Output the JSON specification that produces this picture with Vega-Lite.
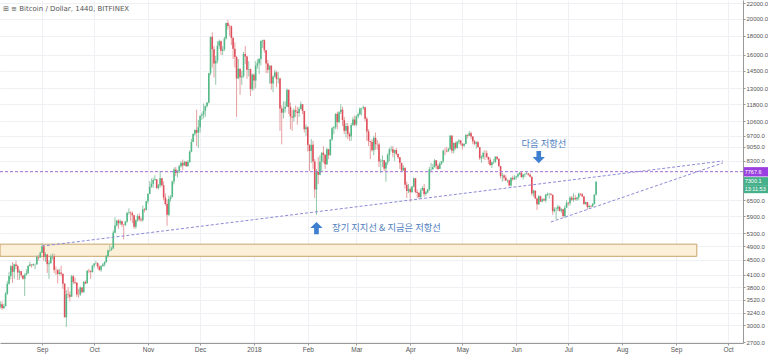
{
"$schema": "https://vega.github.io/schema/vega-lite/v6.json",
"width": 743, "height": 343, "autosize": "none", "padding": {"left": 0, "top": 0, "right": 25, "bottom": 11},
"background": "white",
"title": {"text": "⊞ ≡ Bitcoin / Dollar, 1440, BITFINEX", "anchor": "start", "frame": "group", "orient": "top", "offset": -12, "dx": 3, "fontSize": 7, "fontWeight": "normal", "color": "#555", "font": "DejaVu Sans"},
"config": {"view": {"stroke": null}, "axis": {"labelFont": "Liberation Sans"}},
"datasets": {
"btc": [
{"d":"2017-08-08","o":3370,"h":3480,"l":3330,"c":3420},
{"d":"2017-08-09","o":3420,"h":3480,"l":3300,"c":3342},
{"d":"2017-08-10","o":3342,"h":3430,"l":3320,"c":3381},
{"d":"2017-08-11","o":3381,"h":3690,"l":3370,"c":3650},
{"d":"2017-08-12","o":3650,"h":3950,"l":3620,"c":3884},
{"d":"2017-08-13","o":3884,"h":4180,"l":3860,"c":4073},
{"d":"2017-08-14","o":4073,"h":4360,"l":3990,"c":4326},
{"d":"2017-08-15","o":4326,"h":4440,"l":3900,"c":4181},
{"d":"2017-08-16","o":4181,"h":4400,"l":4000,"c":4376},
{"d":"2017-08-17","o":4376,"h":4480,"l":4250,"c":4331},
{"d":"2017-08-18","o":4331,"h":4370,"l":3970,"c":4160},
{"d":"2017-08-19","o":4160,"h":4240,"l":3980,"c":4194},
{"d":"2017-08-20","o":4194,"h":4200,"l":4040,"c":4088},
{"d":"2017-08-21","o":4088,"h":4100,"l":3980,"c":4002},
{"d":"2017-08-22","o":4002,"h":4140,"l":3600,"c":4100},
{"d":"2017-08-23","o":4100,"h":4250,"l":4090,"c":4151},
{"d":"2017-08-24","o":4151,"h":4360,"l":4120,"c":4335},
{"d":"2017-08-25","o":4335,"h":4450,"l":4320,"c":4371},
{"d":"2017-08-26","o":4371,"h":4380,"l":4290,"c":4353},
{"d":"2017-08-27","o":4353,"h":4400,"l":4330,"c":4382},
{"d":"2017-08-28","o":4382,"h":4400,"l":4250,"c":4382},
{"d":"2017-08-29","o":4382,"h":4625,"l":4360,"c":4579},
{"d":"2017-08-30","o":4579,"h":4640,"l":4480,"c":4565},
{"d":"2017-08-31","o":4565,"h":4740,"l":4560,"c":4703},
{"d":"2017-09-01","o":4703,"h":4980,"l":4690,"c":4892},
{"d":"2017-09-02","o":4892,"h":4940,"l":4470,"c":4579},
{"d":"2017-09-03","o":4579,"h":4720,"l":4440,"c":4655},
{"d":"2017-09-04","o":4655,"h":4660,"l":4150,"c":4382},
{"d":"2017-09-05","o":4382,"h":4480,"l":4000,"c":4406},
{"d":"2017-09-06","o":4406,"h":4650,"l":4400,"c":4597},
{"d":"2017-09-07","o":4597,"h":4680,"l":4510,"c":4599},
{"d":"2017-09-08","o":4599,"h":4670,"l":4150,"c":4229},
{"d":"2017-09-09","o":4229,"h":4320,"l":4100,"c":4226},
{"d":"2017-09-10","o":4226,"h":4250,"l":3890,"c":4122},
{"d":"2017-09-11","o":4122,"h":4260,"l":4100,"c":4161},
{"d":"2017-09-12","o":4161,"h":4340,"l":4060,"c":4130},
{"d":"2017-09-13","o":4130,"h":4130,"l":3760,"c":3882},
{"d":"2017-09-14","o":3882,"h":3900,"l":3150,"c":3154},
{"d":"2017-09-15","o":3154,"h":3730,"l":2970,"c":3637},
{"d":"2017-09-16","o":3637,"h":3800,"l":3550,"c":3625},
{"d":"2017-09-17","o":3625,"h":3700,"l":3480,"c":3582},
{"d":"2017-09-18","o":3582,"h":4100,"l":3580,"c":4065},
{"d":"2017-09-19","o":4065,"h":4100,"l":3870,"c":3925},
{"d":"2017-09-20","o":3925,"h":4030,"l":3870,"c":3906},
{"d":"2017-09-21","o":3906,"h":3920,"l":3580,"c":3631},
{"d":"2017-09-22","o":3631,"h":3760,"l":3560,"c":3630},
{"d":"2017-09-23","o":3630,"h":3820,"l":3600,"c":3792},
{"d":"2017-09-24","o":3792,"h":3800,"l":3660,"c":3682},
{"d":"2017-09-25","o":3682,"h":3950,"l":3680,"c":3926},
{"d":"2017-09-26","o":3926,"h":3960,"l":3870,"c":3892},
{"d":"2017-09-27","o":3892,"h":4220,"l":3890,"c":4209},
{"d":"2017-09-28","o":4209,"h":4260,"l":4140,"c":4195},
{"d":"2017-09-29","o":4195,"h":4220,"l":4000,"c":4174},
{"d":"2017-09-30","o":4174,"h":4360,"l":4160,"c":4338},
{"d":"2017-10-01","o":4338,"h":4410,"l":4290,"c":4403},
{"d":"2017-10-02","o":4403,"h":4470,"l":4370,"c":4409},
{"d":"2017-10-03","o":4409,"h":4430,"l":4260,"c":4318},
{"d":"2017-10-04","o":4318,"h":4350,"l":4200,"c":4230},
{"d":"2017-10-05","o":4230,"h":4360,"l":4180,"c":4329},
{"d":"2017-10-06","o":4329,"h":4410,"l":4320,"c":4371},
{"d":"2017-10-07","o":4371,"h":4460,"l":4320,"c":4439},
{"d":"2017-10-08","o":4439,"h":4640,"l":4420,"c":4611},
{"d":"2017-10-09","o":4611,"h":4800,"l":4560,"c":4772},
{"d":"2017-10-10","o":4772,"h":4930,"l":4720,"c":4781},
{"d":"2017-10-11","o":4781,"h":4880,"l":4760,"c":4827},
{"d":"2017-10-12","o":4827,"h":5400,"l":4820,"c":5325},
{"d":"2017-10-13","o":5325,"h":5860,"l":5320,"c":5563},
{"d":"2017-10-14","o":5563,"h":5760,"l":5530,"c":5739},
{"d":"2017-10-15","o":5739,"h":5790,"l":5450,"c":5647},
{"d":"2017-10-16","o":5647,"h":5780,"l":5580,"c":5711},
{"d":"2017-10-17","o":5711,"h":5740,"l":5520,"c":5603},
{"d":"2017-10-18","o":5603,"h":5610,"l":5110,"c":5590},
{"d":"2017-10-19","o":5590,"h":5730,"l":5550,"c":5708},
{"d":"2017-10-20","o":5708,"h":6060,"l":5660,"c":6011},
{"d":"2017-10-21","o":6011,"h":6190,"l":5950,"c":6031},
{"d":"2017-10-22","o":6031,"h":6080,"l":5730,"c":6008},
{"d":"2017-10-23","o":6008,"h":6070,"l":5650,"c":5930},
{"d":"2017-10-24","o":5930,"h":5940,"l":5450,"c":5526},
{"d":"2017-10-25","o":5526,"h":5780,"l":5460,"c":5750},
{"d":"2017-10-26","o":5750,"h":5970,"l":5700,"c":5904},
{"d":"2017-10-27","o":5904,"h":6000,"l":5720,"c":5780},
{"d":"2017-10-28","o":5780,"h":5860,"l":5700,"c":5753},
{"d":"2017-10-29","o":5753,"h":6300,"l":5700,"c":6153},
{"d":"2017-10-30","o":6153,"h":6200,"l":6040,"c":6130},
{"d":"2017-10-31","o":6130,"h":6480,"l":6100,"c":6468},
{"d":"2017-11-01","o":6468,"h":6800,"l":6380,"c":6767},
{"d":"2017-11-02","o":6767,"h":7330,"l":6760,"c":7078},
{"d":"2017-11-03","o":7078,"h":7450,"l":7030,"c":7207},
{"d":"2017-11-04","o":7207,"h":7490,"l":7030,"c":7379},
{"d":"2017-11-05","o":7379,"h":7600,"l":7340,"c":7407},
{"d":"2017-11-06","o":7407,"h":7420,"l":6980,"c":7023},
{"d":"2017-11-07","o":7023,"h":7200,"l":6960,"c":7145},
{"d":"2017-11-08","o":7145,"h":7800,"l":7040,"c":7459},
{"d":"2017-11-09","o":7459,"h":7470,"l":7080,"c":7143},
{"d":"2017-11-10","o":7143,"h":7310,"l":6500,"c":6618},
{"d":"2017-11-11","o":6618,"h":6790,"l":6300,"c":6357},
{"d":"2017-11-12","o":6357,"h":6540,"l":5560,"c":5950},
{"d":"2017-11-13","o":5950,"h":6700,"l":5900,"c":6559},
{"d":"2017-11-14","o":6559,"h":6720,"l":6450,"c":6636},
{"d":"2017-11-15","o":6636,"h":7340,"l":6630,"c":7315},
{"d":"2017-11-16","o":7315,"h":7970,"l":7180,"c":7871},
{"d":"2017-11-17","o":7871,"h":8000,"l":7560,"c":7708},
{"d":"2017-11-18","o":7708,"h":7850,"l":7500,"c":7790},
{"d":"2017-11-19","o":7790,"h":8100,"l":7700,"c":8036},
{"d":"2017-11-20","o":8036,"h":8300,"l":7970,"c":8200},
{"d":"2017-11-21","o":8200,"h":8370,"l":7850,"c":8071},
{"d":"2017-11-22","o":8071,"h":8300,"l":8070,"c":8253},
{"d":"2017-11-23","o":8253,"h":8300,"l":8000,"c":8038},
{"d":"2017-11-24","o":8038,"h":8350,"l":8020,"c":8253},
{"d":"2017-11-25","o":8253,"h":8870,"l":8200,"c":8790},
{"d":"2017-11-26","o":8790,"h":9520,"l":8760,"c":9330},
{"d":"2017-11-27","o":9330,"h":9830,"l":9330,"c":9818},
{"d":"2017-11-28","o":9818,"h":10100,"l":9700,"c":10058},
{"d":"2017-11-29","o":10058,"h":11400,"l":9100,"c":9888},
{"d":"2017-11-30","o":9888,"h":10700,"l":9000,"c":10233},
{"d":"2017-12-01","o":10233,"h":11000,"l":9900,"c":10975},
{"d":"2017-12-02","o":10975,"h":11200,"l":10700,"c":11074},
{"d":"2017-12-03","o":11074,"h":11850,"l":10800,"c":11323},
{"d":"2017-12-04","o":11323,"h":11700,"l":10900,"c":11657},
{"d":"2017-12-05","o":11657,"h":11950,"l":11550,"c":11916},
{"d":"2017-12-06","o":11916,"h":14300,"l":11850,"c":14291},
{"d":"2017-12-07","o":14291,"h":17900,"l":14100,"c":17899},
{"d":"2017-12-08","o":17899,"h":18400,"l":14800,"c":16569},
{"d":"2017-12-09","o":16569,"h":16900,"l":13900,"c":15178},
{"d":"2017-12-10","o":15178,"h":15900,"l":13300,"c":15455},
{"d":"2017-12-11","o":15455,"h":17400,"l":15200,"c":16936},
{"d":"2017-12-12","o":16936,"h":17600,"l":16600,"c":17415},
{"d":"2017-12-13","o":17415,"h":17500,"l":16000,"c":16408},
{"d":"2017-12-14","o":16408,"h":16900,"l":16000,"c":16565},
{"d":"2017-12-15","o":16565,"h":17900,"l":16400,"c":17706},
{"d":"2017-12-16","o":17706,"h":19550,"l":17600,"c":19497},
{"d":"2017-12-17","o":19497,"h":19850,"l":18700,"c":19140},
{"d":"2017-12-18","o":19140,"h":19300,"l":18000,"c":19114},
{"d":"2017-12-19","o":19114,"h":19200,"l":17000,"c":17776},
{"d":"2017-12-20","o":17776,"h":17900,"l":15600,"c":16624},
{"d":"2017-12-21","o":16624,"h":17300,"l":14800,"c":15802},
{"d":"2017-12-22","o":15802,"h":15900,"l":10900,"c":13831},
{"d":"2017-12-23","o":13831,"h":15600,"l":13800,"c":14699},
{"d":"2017-12-24","o":14699,"h":14700,"l":12500,"c":13926},
{"d":"2017-12-25","o":13926,"h":14500,"l":13300,"c":14027},
{"d":"2017-12-26","o":14027,"h":16300,"l":13900,"c":16099},
{"d":"2017-12-27","o":16099,"h":16900,"l":15100,"c":15838},
{"d":"2017-12-28","o":15838,"h":15900,"l":13800,"c":14606},
{"d":"2017-12-29","o":14606,"h":15400,"l":14000,"c":14656},
{"d":"2017-12-30","o":14656,"h":14700,"l":12400,"c":12952},
{"d":"2017-12-31","o":12952,"h":14300,"l":12800,"c":14156},
{"d":"2018-01-01","o":14156,"h":14250,"l":12900,"c":13657},
{"d":"2018-01-02","o":13657,"h":15400,"l":13000,"c":14982},
{"d":"2018-01-03","o":14982,"h":15600,"l":14700,"c":15201},
{"d":"2018-01-04","o":15201,"h":15700,"l":14200,"c":15599},
{"d":"2018-01-05","o":15599,"h":17500,"l":15000,"c":17429},
{"d":"2018-01-06","o":17429,"h":17600,"l":16700,"c":17527},
{"d":"2018-01-07","o":17527,"h":17600,"l":16200,"c":16477},
{"d":"2018-01-08","o":16477,"h":16500,"l":14300,"c":15170},
{"d":"2018-01-09","o":15170,"h":15500,"l":14300,"c":14595},
{"d":"2018-01-10","o":14595,"h":15000,"l":13400,"c":14973},
{"d":"2018-01-11","o":14973,"h":15000,"l":12900,"c":13405},
{"d":"2018-01-12","o":13405,"h":14100,"l":12700,"c":13980},
{"d":"2018-01-13","o":13980,"h":14600,"l":13900,"c":14360},
{"d":"2018-01-14","o":14360,"h":14500,"l":13100,"c":13772},
{"d":"2018-01-15","o":13772,"h":14400,"l":13400,"c":13819},
{"d":"2018-01-16","o":13819,"h":13900,"l":10000,"c":11490},
{"d":"2018-01-17","o":11490,"h":11700,"l":9200,"c":11188},
{"d":"2018-01-18","o":11188,"h":12000,"l":10800,"c":11474},
{"d":"2018-01-19","o":11474,"h":12000,"l":11200,"c":11607},
{"d":"2018-01-20","o":11607,"h":13000,"l":11600,"c":12899},
{"d":"2018-01-21","o":12899,"h":12900,"l":11100,"c":11600},
{"d":"2018-01-22","o":11600,"h":11900,"l":10100,"c":10931},
{"d":"2018-01-23","o":10931,"h":11400,"l":10000,"c":10868},
{"d":"2018-01-24","o":10868,"h":11500,"l":10600,"c":11359},
{"d":"2018-01-25","o":11359,"h":11700,"l":10900,"c":11259},
{"d":"2018-01-26","o":11259,"h":11600,"l":10400,"c":11171},
{"d":"2018-01-27","o":11171,"h":11600,"l":10900,"c":11441},
{"d":"2018-01-28","o":11441,"h":12000,"l":11400,"c":11787},
{"d":"2018-01-29","o":11787,"h":11800,"l":11100,"c":11306},
{"d":"2018-01-30","o":11306,"h":11300,"l":9900,"c":10106},
{"d":"2018-01-31","o":10106,"h":10400,"l":9700,"c":10221},
{"d":"2018-02-01","o":10221,"h":10300,"l":8800,"c":9171},
{"d":"2018-02-02","o":9171,"h":9200,"l":7800,"c":8830},
{"d":"2018-02-03","o":8830,"h":9500,"l":8200,"c":9175},
{"d":"2018-02-04","o":9175,"h":9400,"l":7900,"c":8277},
{"d":"2018-02-05","o":8277,"h":8400,"l":6600,"c":6955},
{"d":"2018-02-06","o":6955,"h":7900,"l":5950,"c":7754},
{"d":"2018-02-07","o":7754,"h":8500,"l":7200,"c":7621},
{"d":"2018-02-08","o":7621,"h":8600,"l":7600,"c":8266},
{"d":"2018-02-09","o":8266,"h":8750,"l":7800,"c":8736},
{"d":"2018-02-10","o":8736,"h":9100,"l":8200,"c":8621},
{"d":"2018-02-11","o":8621,"h":8650,"l":7900,"c":8129},
{"d":"2018-02-12","o":8129,"h":9000,"l":8100,"c":8926},
{"d":"2018-02-13","o":8926,"h":8930,"l":8400,"c":8598},
{"d":"2018-02-14","o":8598,"h":9500,"l":8600,"c":9494},
{"d":"2018-02-15","o":9494,"h":10250,"l":9400,"c":10166},
{"d":"2018-02-16","o":10166,"h":10300,"l":9800,"c":10233},
{"d":"2018-02-17","o":10233,"h":11150,"l":10100,"c":11112},
{"d":"2018-02-18","o":11112,"h":11250,"l":10100,"c":10551},
{"d":"2018-02-19","o":10551,"h":11300,"l":10500,"c":11225},
{"d":"2018-02-20","o":11225,"h":11800,"l":11100,"c":11403},
{"d":"2018-02-21","o":11403,"h":11600,"l":10300,"c":10690},
{"d":"2018-02-22","o":10690,"h":10900,"l":9800,"c":10005},
{"d":"2018-02-23","o":10005,"h":10500,"l":9600,"c":10301},
{"d":"2018-02-24","o":10301,"h":10500,"l":9500,"c":9813},
{"d":"2018-02-25","o":9813,"h":9900,"l":9400,"c":9664},
{"d":"2018-02-26","o":9664,"h":10500,"l":9400,"c":10366},
{"d":"2018-02-27","o":10366,"h":10900,"l":10300,"c":10725},
{"d":"2018-02-28","o":10725,"h":11000,"l":10300,"c":10397},
{"d":"2018-03-01","o":10397,"h":11000,"l":10300,"c":10951},
{"d":"2018-03-02","o":10951,"h":11200,"l":10800,"c":11086},
{"d":"2018-03-03","o":11086,"h":11550,"l":11000,"c":11489},
{"d":"2018-03-04","o":11489,"h":11550,"l":11000,"c":11512},
{"d":"2018-03-05","o":11512,"h":11700,"l":11400,"c":11573},
{"d":"2018-03-06","o":11573,"h":11600,"l":10600,"c":10779},
{"d":"2018-03-07","o":10779,"h":10900,"l":9400,"c":9965},
{"d":"2018-03-08","o":9965,"h":10100,"l":9100,"c":9395},
{"d":"2018-03-09","o":9395,"h":9400,"l":8400,"c":9337},
{"d":"2018-03-10","o":9337,"h":9500,"l":8800,"c":8866},
{"d":"2018-03-11","o":8866,"h":9700,"l":8600,"c":9578},
{"d":"2018-03-12","o":9578,"h":9900,"l":8900,"c":9205},
{"d":"2018-03-13","o":9205,"h":9450,"l":8900,"c":9194},
{"d":"2018-03-14","o":9194,"h":9300,"l":8000,"c":8269},
{"d":"2018-03-15","o":8269,"h":8400,"l":7700,"c":8300},
{"d":"2018-03-16","o":8300,"h":8600,"l":8000,"c":8338},
{"d":"2018-03-17","o":8338,"h":8350,"l":7800,"c":7916},
{"d":"2018-03-18","o":7916,"h":8250,"l":7300,"c":8223},
{"d":"2018-03-19","o":8223,"h":8700,"l":8100,"c":8630},
{"d":"2018-03-20","o":8630,"h":9000,"l":8300,"c":8913},
{"d":"2018-03-21","o":8913,"h":9100,"l":8800,"c":8930},
{"d":"2018-03-22","o":8930,"h":9100,"l":8500,"c":8729},
{"d":"2018-03-23","o":8729,"h":8900,"l":8300,"c":8880},
{"d":"2018-03-24","o":8880,"h":9000,"l":8600,"c":8669},
{"d":"2018-03-25","o":8669,"h":8700,"l":8400,"c":8495},
{"d":"2018-03-26","o":8495,"h":8500,"l":7900,"c":8209},
{"d":"2018-03-27","o":8209,"h":8200,"l":7800,"c":7833},
{"d":"2018-03-28","o":7833,"h":8100,"l":7800,"c":7954},
{"d":"2018-03-29","o":7954,"h":7960,"l":7000,"c":7165},
{"d":"2018-03-30","o":7165,"h":7300,"l":6600,"c":6891},
{"d":"2018-03-31","o":6891,"h":7200,"l":6800,"c":6973},
{"d":"2018-04-01","o":6973,"h":7050,"l":6450,"c":6845},
{"d":"2018-04-02","o":6845,"h":7100,"l":6800,"c":7083},
{"d":"2018-04-03","o":7083,"h":7500,"l":7050,"c":7456},
{"d":"2018-04-04","o":7456,"h":7460,"l":6800,"c":6853},
{"d":"2018-04-05","o":6853,"h":6950,"l":6600,"c":6811},
{"d":"2018-04-06","o":6811,"h":6850,"l":6550,"c":6636},
{"d":"2018-04-07","o":6636,"h":7000,"l":6600,"c":6911},
{"d":"2018-04-08","o":6911,"h":7100,"l":6900,"c":7023},
{"d":"2018-04-09","o":7023,"h":7200,"l":6650,"c":6770},
{"d":"2018-04-10","o":6770,"h":6900,"l":6700,"c":6834},
{"d":"2018-04-11","o":6834,"h":6980,"l":6800,"c":6968},
{"d":"2018-04-12","o":6968,"h":8000,"l":6900,"c":7889},
{"d":"2018-04-13","o":7889,"h":8200,"l":7800,"c":7895},
{"d":"2018-04-14","o":7895,"h":8150,"l":7850,"c":7986},
{"d":"2018-04-15","o":7986,"h":8400,"l":7980,"c":8329},
{"d":"2018-04-16","o":8329,"h":8350,"l":7900,"c":8058},
{"d":"2018-04-17","o":8058,"h":8150,"l":7850,"c":7902},
{"d":"2018-04-18","o":7902,"h":8250,"l":7900,"c":8163},
{"d":"2018-04-19","o":8163,"h":8300,"l":8100,"c":8294},
{"d":"2018-04-20","o":8294,"h":8900,"l":8200,"c":8846},
{"d":"2018-04-21","o":8846,"h":9000,"l":8600,"c":8845},
{"d":"2018-04-22","o":8845,"h":9050,"l":8750,"c":8807},
{"d":"2018-04-23","o":8807,"h":9000,"l":8800,"c":8930},
{"d":"2018-04-24","o":8930,"h":9750,"l":8900,"c":9697},
{"d":"2018-04-25","o":9697,"h":9750,"l":8700,"c":8845},
{"d":"2018-04-26","o":8845,"h":9300,"l":8700,"c":9281},
{"d":"2018-04-27","o":9281,"h":9350,"l":8900,"c":8987},
{"d":"2018-04-28","o":8987,"h":9400,"l":8950,"c":9348},
{"d":"2018-04-29","o":9348,"h":9500,"l":9200,"c":9419},
{"d":"2018-04-30","o":9419,"h":9450,"l":9150,"c":9240},
{"d":"2018-05-01","o":9240,"h":9250,"l":8900,"c":9119},
{"d":"2018-05-02","o":9119,"h":9250,"l":9050,"c":9235},
{"d":"2018-05-03","o":9235,"h":9800,"l":9200,"c":9744},
{"d":"2018-05-04","o":9744,"h":9800,"l":9550,"c":9700},
{"d":"2018-05-05","o":9700,"h":9990,"l":9700,"c":9858},
{"d":"2018-05-06","o":9858,"h":9950,"l":9500,"c":9654},
{"d":"2018-05-07","o":9654,"h":9680,"l":9200,"c":9374},
{"d":"2018-05-08","o":9374,"h":9450,"l":9150,"c":9235},
{"d":"2018-05-09","o":9235,"h":9370,"l":8950,"c":9325},
{"d":"2018-05-10","o":9325,"h":9400,"l":9000,"c":9043},
{"d":"2018-05-11","o":9043,"h":9050,"l":8350,"c":8441},
{"d":"2018-05-12","o":8441,"h":8600,"l":8200,"c":8504},
{"d":"2018-05-13","o":8504,"h":8800,"l":8400,"c":8723},
{"d":"2018-05-14","o":8723,"h":8880,"l":8350,"c":8717},
{"d":"2018-05-15","o":8717,"h":8850,"l":8450,"c":8510},
{"d":"2018-05-16","o":8510,"h":8520,"l":8150,"c":8368},
{"d":"2018-05-17","o":8368,"h":8480,"l":8050,"c":8095},
{"d":"2018-05-18","o":8095,"h":8270,"l":7950,"c":8234},
{"d":"2018-05-19","o":8234,"h":8400,"l":8150,"c":8248},
{"d":"2018-05-20","o":8248,"h":8550,"l":8200,"c":8514},
{"d":"2018-05-21","o":8514,"h":8550,"l":8350,"c":8419},
{"d":"2018-05-22","o":8419,"h":8430,"l":7980,"c":8041},
{"d":"2018-05-23","o":8041,"h":8050,"l":7450,"c":7558},
{"d":"2018-05-24","o":7558,"h":7720,"l":7300,"c":7588},
{"d":"2018-05-25","o":7588,"h":7650,"l":7350,"c":7481},
{"d":"2018-05-26","o":7481,"h":7600,"l":7330,"c":7356},
{"d":"2018-05-27","o":7356,"h":7400,"l":7250,"c":7368},
{"d":"2018-05-28","o":7368,"h":7400,"l":7090,"c":7136},
{"d":"2018-05-29","o":7136,"h":7520,"l":7080,"c":7472},
{"d":"2018-05-30","o":7472,"h":7580,"l":7350,"c":7407},
{"d":"2018-05-31","o":7407,"h":7600,"l":7380,"c":7495},
{"d":"2018-06-01","o":7495,"h":7560,"l":7400,"c":7541},
{"d":"2018-06-02","o":7541,"h":7700,"l":7490,"c":7643},
{"d":"2018-06-03","o":7643,"h":7760,"l":7600,"c":7720},
{"d":"2018-06-04","o":7720,"h":7760,"l":7480,"c":7514},
{"d":"2018-06-05","o":7514,"h":7650,"l":7400,"c":7633},
{"d":"2018-06-06","o":7633,"h":7700,"l":7500,"c":7654},
{"d":"2018-06-07","o":7654,"h":7760,"l":7630,"c":7678},
{"d":"2018-06-08","o":7678,"h":7700,"l":7570,"c":7625},
{"d":"2018-06-09","o":7625,"h":7690,"l":7500,"c":7531},
{"d":"2018-06-10","o":7531,"h":7540,"l":6700,"c":6786},
{"d":"2018-06-11","o":6786,"h":6950,"l":6650,"c":6906},
{"d":"2018-06-12","o":6906,"h":6920,"l":6550,"c":6582},
{"d":"2018-06-13","o":6582,"h":6620,"l":6130,"c":6349},
{"d":"2018-06-14","o":6349,"h":6720,"l":6320,"c":6675},
{"d":"2018-06-15","o":6675,"h":6690,"l":6440,"c":6456},
{"d":"2018-06-16","o":6456,"h":6580,"l":6420,"c":6550},
{"d":"2018-06-17","o":6550,"h":6600,"l":6480,"c":6499},
{"d":"2018-06-18","o":6499,"h":6780,"l":6420,"c":6734},
{"d":"2018-06-19","o":6734,"h":6830,"l":6680,"c":6769},
{"d":"2018-06-20","o":6769,"h":6800,"l":6570,"c":6776},
{"d":"2018-06-21","o":6776,"h":6790,"l":6710,"c":6729},
{"d":"2018-06-22","o":6729,"h":6740,"l":5950,"c":6083},
{"d":"2018-06-23","o":6083,"h":6230,"l":6040,"c":6162},
{"d":"2018-06-24","o":6162,"h":6240,"l":5780,"c":6173},
{"d":"2018-06-25","o":6173,"h":6330,"l":6080,"c":6249},
{"d":"2018-06-26","o":6249,"h":6290,"l":6070,"c":6093},
{"d":"2018-06-27","o":6093,"h":6200,"l":6020,"c":6157},
{"d":"2018-06-28","o":6157,"h":6170,"l":5860,"c":5903},
{"d":"2018-06-29","o":5903,"h":6300,"l":5830,"c":6218},
{"d":"2018-06-30","o":6218,"h":6500,"l":6200,"c":6404},
{"d":"2018-07-01","o":6404,"h":6440,"l":6290,"c":6385},
{"d":"2018-07-02","o":6385,"h":6680,"l":6300,"c":6614},
{"d":"2018-07-03","o":6614,"h":6680,"l":6480,"c":6530},
{"d":"2018-07-04","o":6530,"h":6800,"l":6450,"c":6597},
{"d":"2018-07-05","o":6597,"h":6720,"l":6500,"c":6547},
{"d":"2018-07-06","o":6547,"h":6640,"l":6480,"c":6617},
{"d":"2018-07-07","o":6617,"h":6820,"l":6520,"c":6773},
{"d":"2018-07-08","o":6773,"h":6800,"l":6700,"c":6742},
{"d":"2018-07-09","o":6742,"h":6810,"l":6640,"c":6664},
{"d":"2018-07-10","o":6664,"h":6680,"l":6330,"c":6358},
{"d":"2018-07-11","o":6358,"h":6450,"l":6330,"c":6434},
{"d":"2018-07-12","o":6434,"h":6440,"l":6150,"c":6239},
{"d":"2018-07-13","o":6239,"h":6330,"l":6180,"c":6277},
{"d":"2018-07-14","o":6277,"h":6320,"l":6230,"c":6259},
{"d":"2018-07-15","o":6259,"h":6400,"l":6250,"c":6359},
{"d":"2018-07-16","o":6359,"h":6750,"l":6340,"c":6742},
{"d":"2018-07-17","o":6742,"h":7330,"l":6700,"c":7300}
],
"zone": [{"a":"2017-08-07T20:00:00Z","b":"2018-09-13","lo":4600,"hi":4960}],
"trend": [
{"g":"long","d":"2017-09-01","p":4900},{"g":"long","d":"2018-09-28","p":8300},
{"g":"short","d":"2018-06-21","p":5690},{"g":"short","d":"2018-09-28","p":8200}
],
"hline": [{"p":7767.6}],
"arrowsUp": [{"d":"2018-02-06","p":5480}],
"arrowsDown": [{"d":"2018-06-14","p":8500}],
"noteLeft": [{"d":"2018-02-15","p":5480,"t":"장기 지지선 & 지금은 저항선"}],
"noteCenter": [{"d":"2018-06-17","p":9220,"t":"다음 저항선"}],
"tags": [
{"d1":"2018-10-10","d2":"2018-10-24","lo":7540,"hi":7990,"mid":7767.6,"t":"7767.6","k":"p"},
{"d1":"2018-10-10","d2":"2018-10-24","lo":7146,"hi":7510,"mid":7326,"t":"7300.1","k":"g"},
{"d1":"2018-10-10","d2":"2018-10-24","lo":6800,"hi":7146,"mid":6970,"t":"13:11:53","k":"g"}
]
},
"encoding": {
"x": {"field": "d", "type": "temporal",
  "scale": {"type": "utc", "nice": false, "padding": 0, "domain": [{"year":2017,"month":8,"date":7,"hours":19,"utc":true},{"year":2018,"month":10,"date":9,"hours":14,"utc":true}]},
  "axis": {"title": null, "values": [
    {"year":2017,"month":9,"date":1,"utc":true},{"year":2017,"month":10,"date":1,"utc":true},{"year":2017,"month":11,"date":1,"utc":true},{"year":2017,"month":12,"date":1,"utc":true},
    {"year":2018,"month":1,"date":1,"utc":true},{"year":2018,"month":2,"date":1,"utc":true},{"year":2018,"month":3,"date":1,"utc":true},{"year":2018,"month":4,"date":1,"utc":true},
    {"year":2018,"month":5,"date":1,"utc":true},{"year":2018,"month":6,"date":1,"utc":true},{"year":2018,"month":7,"date":1,"utc":true},{"year":2018,"month":8,"date":1,"utc":true},
    {"year":2018,"month":9,"date":1,"utc":true},{"year":2018,"month":10,"date":1,"utc":true}],
    "labelExpr": "utcFormat(datum.value, '%m') == '01' ? utcFormat(datum.value, '%Y') : utcFormat(datum.value, '%b')",
    "labelFontSize": 6.5, "labelColor": "#555", "tickSize": 2, "tickColor": "#999", "domainColor": "#999", "labelPadding": 1,
    "grid": true, "gridColor": "#eef0f3", "labelOverlap": false}},
"y": {"type": "quantitative",
  "scale": {"type": "log", "domain": [2690, 22480], "nice": false, "zero": false, "padding": 0},
  "axis": {"title": null, "orient": "right", "values": [22000,20000,18000,16000,14500,13000,11800,10600,9700,9050,8300,6500,5900,5300,4900,4500,4100,3800,3520,3240,3000,2700],
    "format": ".1f", "labelFontSize": 6, "labelColor": "#555", "tickSize": 2, "tickColor": "#999", "domainColor": "#999", "labelPadding": 1,
    "grid": true, "gridColor": "#eef0f3", "labelOverlap": false}}
},
"layer": [
{"data": {"name": "zone"}, "mark": {"type": "rect", "fill": "#fdf0d8", "stroke": "#c8a46c", "strokeWidth": 1},
 "encoding": {"x": {"field": "a", "type": "temporal"}, "x2": {"field": "b"}, "y": {"field": "lo", "type": "quantitative"}, "y2": {"field": "hi"}}},
{"data": {"name": "btc"}, "mark": {"type": "rule", "strokeWidth": 0.9},
 "encoding": {"y": {"field": "l", "type": "quantitative"}, "y2": {"field": "h"},
  "color": {"condition": {"test": "datum.c >= datum.o", "value": "#86c2a0"}, "value": "#e39494"}}},
{"data": {"name": "btc"}, "mark": {"type": "bar", "size": 1.6},
 "encoding": {"y": {"field": "o", "type": "quantitative"}, "y2": {"field": "c"},
  "color": {"condition": {"test": "datum.c >= datum.o", "value": "#53b987"}, "value": "#e0505c"}}},
{"data": {"name": "hline"}, "mark": {"type": "rule", "stroke": "#a36ad6", "strokeWidth": 1, "strokeDash": [3, 2]},
 "encoding": {"x": null, "y": {"field": "p", "type": "quantitative"}}},
{"data": {"name": "trend"}, "mark": {"type": "line", "stroke": "#8d8ad6", "strokeWidth": 1, "strokeDash": [3, 2]},
 "encoding": {"y": {"field": "p", "type": "quantitative"}, "detail": {"field": "g"}}},
{"data": {"name": "arrowsUp"}, "mark": {"type": "point", "shape": "M0,-1L1,0L0.38,0L0.38,1L-0.38,1L-0.38,0L-1,0Z", "size": 150, "filled": true, "fill": "#3f7fd0", "stroke": null, "opacity": 1},
 "encoding": {"y": {"field": "p", "type": "quantitative"}}},
{"data": {"name": "arrowsDown"}, "mark": {"type": "point", "shape": "M0,1L1,0L0.38,0L0.38,-1L-0.38,-1L-0.38,0L-1,0Z", "size": 150, "filled": true, "fill": "#3f7fd0", "stroke": null, "opacity": 1},
 "encoding": {"y": {"field": "p", "type": "quantitative"}}},
{"data": {"name": "noteLeft"}, "mark": {"type": "text", "font": "Noto Sans CJK KR", "fontSize": 9.3, "color": "#4f80c0", "baseline": "middle", "align": "left"},
 "encoding": {"y": {"field": "p", "type": "quantitative"}, "text": {"field": "t"}}},
{"data": {"name": "noteCenter"}, "mark": {"type": "text", "font": "Noto Sans CJK KR", "fontSize": 9.3, "color": "#4f80c0", "baseline": "middle", "align": "center"},
 "encoding": {"y": {"field": "p", "type": "quantitative"}, "text": {"field": "t"}}},
{"data": {"name": "tags"}, "mark": {"type": "rect"},
 "encoding": {"x": {"field": "d1", "type": "temporal"}, "x2": {"field": "d2"}, "y": {"field": "lo", "type": "quantitative"}, "y2": {"field": "hi"},
  "fill": {"condition": {"test": "datum.k == 'p'", "value": "#9b40e0"}, "value": "#45b08a"}}},
{"data": {"name": "tags"}, "mark": {"type": "text", "fontSize": 5.5, "color": "white", "align": "left", "dx": 1, "font": "Liberation Sans"},
 "encoding": {"x": {"field": "d1", "type": "temporal"}, "y": {"field": "mid", "type": "quantitative"}, "text": {"field": "t"}}}
]
}
